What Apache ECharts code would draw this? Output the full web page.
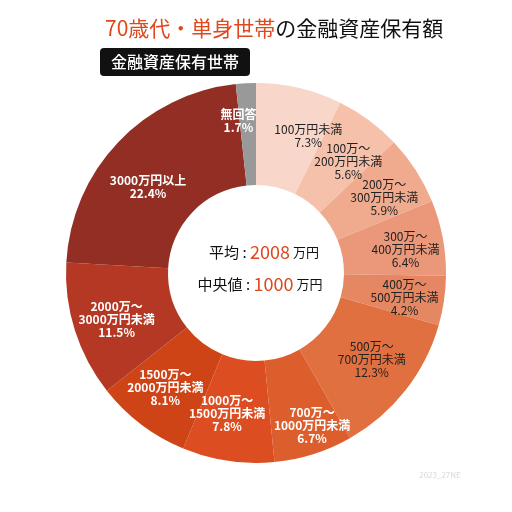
<!DOCTYPE html>
<html><head><meta charset="utf-8">
<script src="https://cdn.jsdelivr.net/npm/echarts@6/dist/echarts.min.js"></script>
<style>html,body{margin:0;padding:0;background:#fff}#c{width:512px;height:512px}</style>
</head><body><div id="c"></div>
<script>
const categories = ['100万円未満','100万～\n200万円未満','200万～\n300万円未満','300万～\n400万円未満','400万～\n500万円未満','500万～\n700万円未満','700万～\n1000万円未満','1000万～\n1500万円未満','1500万～\n2000万円未満','2000万～\n3000万円未満','3000万円以上','無回答'];
const values = [7.3,5.6,5.9,6.4,4.2,12.3,6.7,7.8,8.1,11.5,22.4,1.7];
const colors = ['#f8d7ca','#f5c1ab','#f0ab8f','#ea977a','#e58763','#e07040','#dd5e2d','#dc4e22','#cf4416','#b43823','#922e24','#999999'];
const labelColors = ['#222','#222','#222','#222','#222','#222','#fff','#fff','#fff','#fff','#fff','#fff'];
const labelOffsets = [[20,1],[8,3],[9,2],[10,3],[8,4],[4,-1],[13,17],[-8,0],[-5,1],[-4,4],[-5,12],[-10,-10]];
const FONT = '"Noto Sans CJK JP","Noto Sans",sans-serif';
const chart = echarts.init(document.getElementById('c'));
const rich = {
  k:{fontSize:15,fill:'#111',fontFamily:FONT},
  v:{fontSize:18,fill:'#e0471c',fontFamily:FONT},
  u:{fontSize:13,fill:'#111',fontFamily:FONT}
};
chart.setOption({
  animation:false,
  textStyle:{fontFamily:FONT},
  title:{
    left:100, top:13,
    text:'{a|70歳代・単身世帯}{b|の金融資産保有額}',
    textStyle:{fontWeight:'normal',rich:{
      a:{color:'#e0471c',fontSize:21,fontFamily:FONT},
      b:{color:'#111',fontSize:21,fontFamily:FONT}
    }}
  },
  graphic:[
    {type:'rect',shape:{x:100,y:48,width:150,height:28,r:4},style:{fill:'#111'}},
    {type:'text',x:175,y:62,style:{text:'金融資産保有世帯',fill:'#fff',font:'500 16px '+FONT,textAlign:'center',textVerticalAlign:'middle'}},
    {type:'text',x:264,y:252,style:{
      text:'{k|平均 : }{v|2008}{u| 万円}',textAlign:'center',textVerticalAlign:'middle',rich
    }},
    {type:'text',x:260,y:284,style:{
      text:'{k|中央値 : }{v|1000}{u| 万円}',textAlign:'center',textVerticalAlign:'middle',rich
    }},
    {type:'text',x:440,y:475,style:{text:'2023_27NE',fill:'#d8d8d8',font:'8px '+FONT,textAlign:'center',textVerticalAlign:'middle'}}
  ],
  series:[{
    type:'pie',
    center:[256,273],
    radius:[88,190],
    startAngle:90,
    clockwise:true,
    avoidLabelOverlap:false,
    labelLayout:{hideOverlap:false},
    label:{show:true,position:'inside',fontSize:12,lineHeight:13,fontFamily:FONT,
      formatter:p=>p.name+'\n'+p.value.toFixed(1)+'%'},
    labelLine:{show:false},
    emphasis:{disabled:true},
    data:values.map((v,i)=>({name:categories[i],value:v,
      itemStyle:{color:colors[i]},
      label:{color:labelColors[i],offset:labelOffsets[i],fontWeight:labelColors[i]==='#fff'?'bold':'normal'}}))
  }]
});
</script></body></html>
